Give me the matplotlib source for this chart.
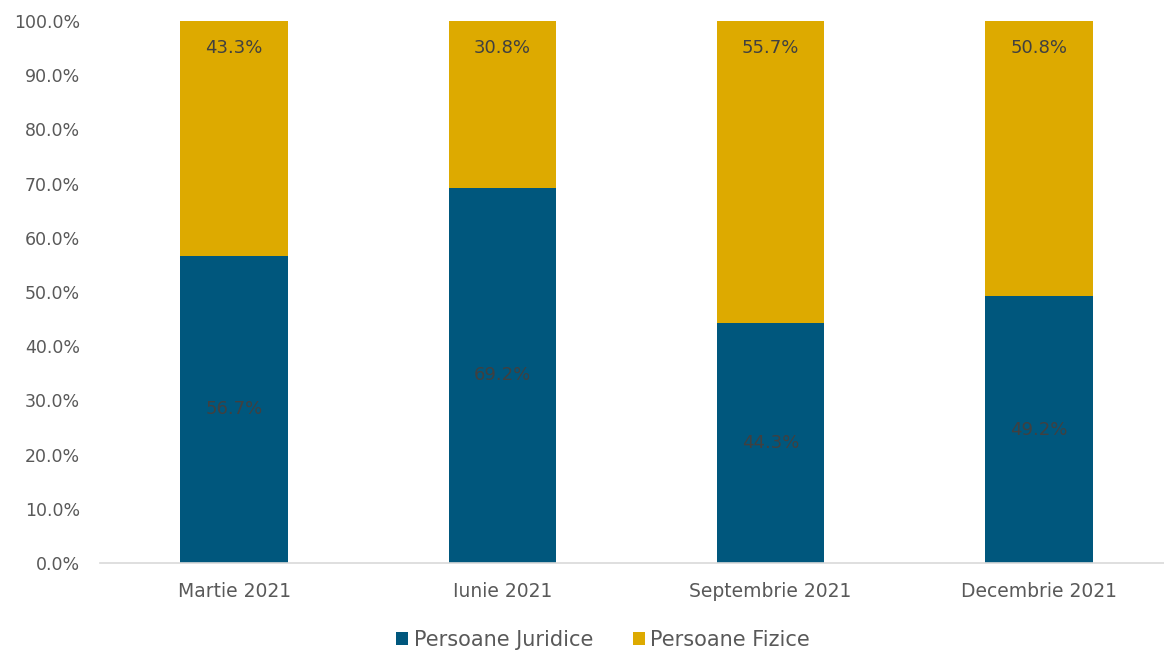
import matplotlib
matplotlib.use("Agg")
import matplotlib.pyplot as plt
from matplotlib.ticker import FuncFormatter

plt.rcParams['font.family'] = ['DejaVu Sans']

categories = ["Martie 2021", "Iunie 2021", "Septembrie 2021", "Decembrie 2021"]
juridice = [56.7, 69.2, 44.3, 49.2]
fizice = [43.3, 30.8, 55.7, 50.8]

blue = "#00577d"
gold = "#ddaa00"
label_color = "#404040"
tick_color = "#595959"

fig = plt.figure(figsize=(11.64, 6.5), dpi=100)
ax = fig.add_axes([100 / 1164, (650 - 563) / 650, 1073 / 1164, 542 / 650])

x = range(len(categories))
b1 = ax.bar(x, juridice, width=0.4, color=blue, label="Persoane Juridice")
b2 = ax.bar(x, fizice, width=0.4, bottom=juridice, color=gold, label="Persoane Fizice")

# bottom labels centred, top labels at the inner end
for i, (j, f) in enumerate(zip(juridice, fizice)):
    ax.text(i, j / 2, "{:.1f}%".format(j), ha="center", va="center",
            fontsize=13, color=label_color)
    ax.text(i, j + f - 5, "{:.1f}%".format(f), ha="center", va="center",
            fontsize=13, color=label_color)

ax.set_xlim(-0.5, 3.5)
ax.set_ylim(0, 100)
ax.set_yticks(range(0, 101, 10))
ax.yaxis.set_major_formatter(FuncFormatter(lambda v, p: "{:.1f}%".format(v)))
ax.set_xticks(list(x))
ax.set_xticklabels(categories)
ax.tick_params(axis="both", length=0, colors=tick_color)
ax.tick_params(axis="x", pad=14, labelsize=13.5)
ax.tick_params(axis="y", pad=14.5, labelsize=12.5)

for s in ["top", "right", "left"]:
    ax.spines[s].set_visible(False)
ax.spines["bottom"].set_color("#d9d9d9")
ax.spines["bottom"].set_linewidth(1.2)

fig.legend(handles=[b1, b2], loc="center", bbox_to_anchor=(603 / 1164, 1 - 640 / 650),
           ncol=2, frameon=False, fontsize=15, handlelength=0.6, handleheight=0.6,
           handletextpad=0.25, columnspacing=1.9, labelcolor=tick_color)

fig.savefig("out.png", dpi=100)
